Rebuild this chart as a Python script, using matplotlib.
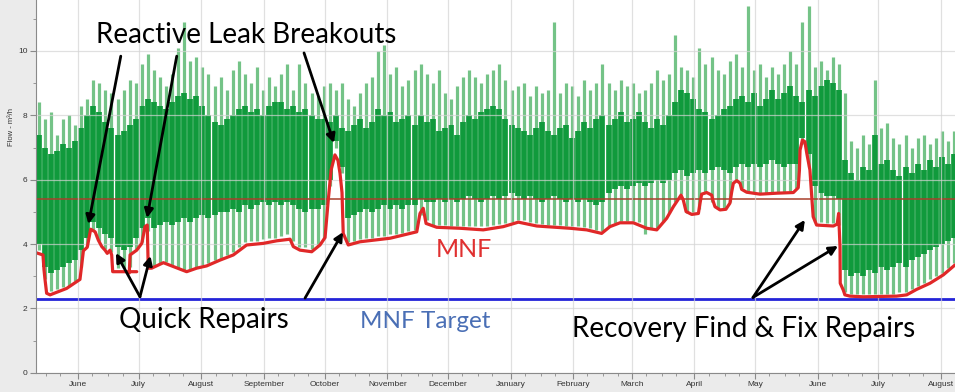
import datetime as dt
import matplotlib
matplotlib.use('agg')
import matplotlib.pyplot as plt
import matplotlib.dates as mdates
from matplotlib.ticker import MultipleLocator

START = dt.date(2015, 5, 11)
END = dt.date(2016, 8, 8)
BUCKET_DAYS = 3

# flow envelope per 3-day bucket (m3/h): night low, dense band low/high, daytime peak
flow_low = [
    3.8, 2.9, 2.55, 2.6, 2.65, 2.7, 2.85, 3.3, 3.95, 4.45,
    4.1, 3.85, 3.75, 3.25, 3.25, 3.3, 3.85, 4.05, 4.4, 3.3,
    3.4, 3.45, 3.35, 3.25, 3.2, 3.2, 3.3, 3.35, 3.4, 3.5,
    3.55, 3.65, 3.75, 3.9, 4.05, 4.1, 4.1, 4.15, 4.2, 4.2,
    4.25, 4.3, 4.1, 3.9, 3.9, 3.85, 3.95, 4.2, 5.8, 7.0,
    6.2, 4.05, 4.1, 4.15, 4.2, 4.2, 4.25, 4.25, 4.3, 4.3,
    4.35, 4.4, 4.45, 4.9, 4.75, 4.6, 4.6, 4.6, 4.55, 4.55,
    4.55, 4.55, 4.55, 4.55, 4.55, 4.6, 4.62, 4.65, 4.7, 4.75,
    4.75, 4.7, 4.65, 4.62, 4.6, 4.58, 4.58, 4.57, 4.57, 4.55,
    4.53, 4.5, 4.45, 4.42, 4.55, 4.65, 4.72, 4.72, 4.72, 4.68,
    4.3, 4.5, 4.5, 4.7, 4.95, 5.3, 5.55, 4.95, 5.0, 5.1,
    5.6, 5.3, 5.1, 5.1, 5.3, 6.0, 5.75, 5.65, 5.62, 5.6,
    5.6, 5.6, 5.62, 5.62, 5.65, 5.75, 7.1, 6.4, 4.7, 4.67,
    4.65, 4.65, 4.6, 2.5, 2.45, 2.45, 2.45, 2.45, 2.45, 2.45,
    2.45, 2.45, 2.5, 2.5, 2.6, 2.7, 2.8, 2.9, 3.0, 3.1,
    3.25, 3.4]

flow_band_low = [
    4.0, 3.3, 3.1, 3.2, 3.3, 3.4, 3.5, 3.8, 4.2, 4.7,
    4.5, 4.3, 4.2, 3.9, 3.8, 3.9, 4.2, 4.5, 4.8, 4.5,
    4.6, 4.7, 4.6, 4.7, 4.8, 4.7, 4.8, 4.9, 4.8, 4.9,
    5.0, 5.0, 5.1, 5.0, 5.2, 5.1, 5.2, 5.3, 5.2, 5.3,
    5.2, 5.3, 5.2, 5.1, 5.0, 5.1, 5.1, 5.2, 6.0, 7.2,
    6.4, 4.8, 4.9, 5.0, 5.1, 5.0, 5.1, 5.2, 5.1, 5.2,
    5.1, 5.2, 5.2, 5.4, 5.3, 5.3, 5.4, 5.3, 5.4, 5.3,
    5.4, 5.5, 5.4, 5.3, 5.4, 5.5, 5.4, 5.5, 5.6, 5.5,
    5.4, 5.5, 5.4, 5.3, 5.4, 5.5, 5.4, 5.3, 5.4, 5.3,
    5.4, 5.3, 5.2, 5.3, 5.6, 5.7, 5.8, 5.7, 5.8, 5.9,
    5.8, 5.9, 6.0, 5.9, 6.0, 6.2, 6.3, 6.1, 6.2, 6.3,
    6.2, 6.3, 6.4, 6.3, 6.2, 6.4, 6.5, 6.4, 6.5, 6.4,
    6.5, 6.6, 6.5, 6.4, 6.5, 6.5, 7.3, 6.8, 5.8, 5.6,
    5.5, 5.5, 5.4, 3.2, 3.0, 3.1, 3.0, 3.2, 3.1, 3.3,
    3.2, 3.3, 3.4, 3.3, 3.5, 3.6, 3.7, 3.8, 3.9, 4.0,
    4.1, 4.2]

flow_band_high = [
    7.4, 7.0, 6.8, 6.9, 7.1, 7.0, 7.2, 7.6, 8.0, 8.3,
    8.1, 7.8, 7.6, 7.4, 7.5, 7.7, 7.9, 8.3, 8.5, 8.4,
    8.3, 8.2, 8.4, 8.6, 8.7, 8.5, 8.6, 8.3, 8.0, 7.8,
    7.7, 7.9, 8.0, 8.2, 8.3, 8.1, 8.2, 8.0, 8.3, 8.4,
    8.4, 8.2, 8.3, 8.1, 8.2, 8.0, 7.9, 7.9, 7.8, 8.0,
    7.6, 7.5, 7.7, 7.9, 7.6, 7.8, 8.2, 8.0, 8.1, 7.8,
    7.9, 8.0, 7.7, 8.0, 7.8, 7.9, 7.5, 7.6, 7.7, 7.4,
    7.8, 8.0, 7.9, 8.1, 8.2, 8.3, 8.2, 7.9, 7.7, 7.6,
    7.5, 7.4, 7.6, 7.8, 7.5, 7.4, 7.6, 7.7, 7.3, 7.5,
    7.8, 7.6, 7.9, 8.0, 7.7, 7.9, 8.1, 7.8, 7.9, 8.1,
    7.8, 7.6, 7.9, 7.7, 8.0, 8.4, 8.8, 8.7, 8.5, 8.2,
    8.1, 7.9, 8.0, 8.2, 8.3, 8.5, 8.6, 8.4, 8.7, 8.3,
    8.5, 8.8, 8.5, 8.7, 8.9, 8.6, 8.4, 8.8, 8.6, 8.9,
    9.1, 9.0, 8.8, 6.6, 6.2, 6.0, 6.4, 6.3, 7.4, 6.5,
    6.6, 6.3, 6.1, 6.4, 6.2, 6.5, 6.3, 6.6, 6.4, 6.7,
    6.5, 6.8]

flow_peak = [
    8.4, 7.9, 8.1, 7.4, 7.9, 8.0, 7.7, 8.3, 8.5, 9.1,
    9.0, 8.8, 8.7, 8.5, 8.8, 9.1, 9.0, 9.6, 9.9, 9.4,
    9.2, 8.9, 9.3, 10.1, 10.9, 9.7, 9.8, 9.5, 9.3, 8.9,
    9.2, 8.8, 9.4, 9.7, 9.3, 9.0, 9.5, 8.8, 9.2, 8.9,
    9.3, 9.6, 8.8, 9.6, 9.0, 8.7, 8.6, 8.9, 9.0, 8.8,
    9.0, 8.5, 8.3, 8.7, 9.0, 9.2, 10.0, 10.2, 9.3, 9.5,
    8.9, 9.1, 9.4, 9.6, 9.3, 9.0, 9.4, 8.7, 8.5, 8.9,
    9.2, 9.4, 9.2, 9.0, 9.3, 9.4, 9.6, 9.1, 8.8, 8.9,
    9.0, 8.6, 8.9, 8.7, 8.8, 10.9, 8.7, 9.0, 8.9, 8.6,
    9.1, 8.8, 9.0, 9.6, 9.0, 8.8, 9.1, 8.9, 9.0, 8.7,
    8.8, 9.0, 9.4, 9.1, 9.3, 10.5, 9.5, 9.4, 9.2, 10.1,
    9.6, 9.8, 9.4, 9.3, 9.7, 9.9, 9.5, 11.4, 9.4, 9.6,
    9.2, 9.5, 9.3, 9.6, 10.0, 9.6, 10.9, 11.4, 9.5, 9.7,
    9.4, 9.8, 9.6, 8.7, 7.2, 7.0, 7.4, 7.1, 9.1, 7.6,
    7.75, 7.3, 7.1, 7.4, 7.0, 7.3, 7.4, 7.1, 7.3, 7.5,
    7.2, 7.5]

# hand-drawn MNF trace, two strokes (days after START, m3/h)
mnf_a_days = [0.15, 3.6, 4.1, 4.6, 5.4, 7.1, 15.3, 21.9, 23.6, 25.5, 27.2,
              29.4, 31.0, 32.7, 34.3, 35.4, 36.8, 37.6, 38.1, 50.0]
mnf_a_vals = [3.73, 3.66, 3.2, 2.9, 2.47, 2.42, 2.62, 2.90, 3.79, 3.90, 4.46,
              4.38, 4.12, 3.92, 3.81, 3.71, 3.81, 3.66, 3.14, 3.14]

mnf_b_days = [46.3, 46.7, 50.0, 52.5, 54.1, 55.2, 55.7, 57.4, 63.2, 68.1,
              74.7, 79.7, 84.6, 91.2, 97.8, 104.4, 112.6, 119.3, 125.9, 127.5,
              130.8, 136.6, 140.7, 143.2, 144.7, 146.2, 148.1, 149.6, 150.6, 151.6,
              152.2, 154.7, 160.5, 175.4, 188.6, 190.2, 191.8, 193.2, 198.5, 210.0,
              221.5, 231.4, 238.9, 248.0, 264.4, 272.7, 280.1, 284.2, 289.2, 295.8,
              302.4, 307.4, 312.3, 315.6, 319.4, 320.5, 321.9, 324.7, 328.0, 328.8,
              329.6, 332.1, 334.6, 335.1, 336.2, 338.7, 341.6, 343.6, 344.5, 345.3,
              347.0, 348.6, 349.4, 351.9, 358.5, 366.7, 375.0, 377.4, 378.0, 378.3,
              379.5, 380.7, 381.7, 383.2, 384.1, 384.8, 386.5, 394.8, 396.7, 397.4,
              398.1, 398.2, 399.7, 400.5, 403.0, 409.6, 426.1, 431.1, 436.0, 442.6,
              449.2, 455.0]
mnf_b_vals = [3.10, 3.66, 3.81, 4.02, 4.54, 4.59, 3.25, 3.25, 3.42, 3.30,
              3.14, 3.25, 3.32, 3.50, 3.66, 3.97, 4.02, 4.10, 4.15, 3.92,
              3.81, 3.76, 3.97, 4.2, 5.3, 6.3, 6.77, 6.6, 6.2, 5.6,
              4.33, 3.97, 4.07, 4.18, 4.38, 4.95, 5.11, 4.64, 4.52, 4.49,
              4.44, 4.54, 4.68, 4.56, 4.49, 4.44, 4.33, 4.54, 4.66, 4.66,
              4.49, 4.44, 4.80, 5.16, 5.52, 5.37, 5.01, 4.92, 4.95, 5.27,
              5.55, 5.60, 5.52, 5.37, 5.16, 5.06, 5.08, 5.27, 5.63, 5.89,
              5.97, 5.89, 5.70, 5.61, 5.55, 5.58, 5.60, 5.75, 6.3, 6.92,
              7.23, 7.18, 6.8, 6.3, 5.47, 4.85, 4.59, 4.56, 4.62, 4.95,
              3.9, 2.78, 2.57, 2.42, 2.38, 2.36, 2.38, 2.42, 2.59, 2.78,
              3.04, 3.35]

baseline_flow = 5.39
mnf_target = 2.29

DARK_GREEN = '#109a3c'
LIGHT_GREEN = '#74c387'
RED = '#e02828'

plt.rcParams['font.family'] = ['Lato', 'DejaVu Sans']

t0 = mdates.date2num(START)


def day(d):
    return t0 + d


fig = plt.figure(figsize=(9.55, 3.92), dpi=100, facecolor='#ebebeb')
ax = fig.add_axes([0.0374, 0.0492, 0.9626, 0.9508])
ax.set_facecolor('white')

xs = [day(BUCKET_DAYS * i + 1.5) for i in range(len(flow_peak))]
ax.vlines(xs, flow_low, flow_peak, color=LIGHT_GREEN, lw=2.3, zorder=1)
ax.vlines(xs, flow_band_low, flow_band_high, color=DARK_GREEN, lw=4.1, zorder=1.2)

ax.axhline(baseline_flow, color='#a8402c', lw=1.1, zorder=2)
ax.axhline(mnf_target, color='#2424d8', lw=2, zorder=2)

ax.plot([day(d) for d in mnf_a_days], mnf_a_vals, color=RED, lw=2.3,
        solid_joinstyle='round', solid_capstyle='round', zorder=3)
ax.plot([day(d) for d in mnf_b_days], mnf_b_vals, color=RED, lw=2.3,
        solid_joinstyle='round', solid_capstyle='round', zorder=3)

ax.set_xlim(day(0), mdates.date2num(END))
ax.set_ylim(0, 11.585)

ax.xaxis.set_major_locator(mdates.MonthLocator())
ax.xaxis.set_major_formatter(mdates.DateFormatter('%B'))
ax.xaxis.set_minor_locator(mdates.DayLocator(bymonthday=[8, 16, 23]))
ax.yaxis.set_major_locator(MultipleLocator(2))
ax.yaxis.set_minor_locator(MultipleLocator(1))

ax.grid(True, which='major', color='#d4d4d4', lw=0.9, alpha=0.7, zorder=1.5)
ax.set_axisbelow(False)
for side in ('top', 'right'):
    ax.spines[side].set_visible(False)
for side in ('left', 'bottom'):
    ax.spines[side].set_color('#8a8a8a')
    ax.spines[side].set_zorder(4)

ax.tick_params(which='major', length=4, color='#8a8a8a', labelsize=6,
               labelcolor='#333333', pad=2)
ax.tick_params(which='minor', length=2.5, color='#8a8a8a')
for lab in ax.get_xticklabels() + ax.get_yticklabels():
    lab.set_family('Liberation Sans')

ax.set_ylabel('Flow - m³/h', fontsize=5.5, color='#333333', family='Liberation Sans')
ax.yaxis.set_label_coords(-0.0225, 0.66)

# callout arrows: (tail day, tail value, head day, head value)
arrows = [
    (42.1, 9.84, 26.1, 4.62),
    (69.8, 9.84, 55.1, 4.81),
    (132.8, 9.94, 147.6, 7.14),
    (51.6, 2.36, 39.7, 3.72),
    (51.6, 2.36, 56.8, 3.63),
    (133.3, 2.32, 152.1, 4.37),
    (355.0, 2.34, 380.7, 4.75),
    (355.0, 2.34, 397.1, 3.94),
]
for tx, ty, hx, hy in arrows:
    ax.annotate('', xy=(day(hx), hy), xytext=(day(tx), ty),
                arrowprops=dict(arrowstyle='-|>', color='black', lw=2.0,
                                mutation_scale=13, shrinkA=0, shrinkB=0),
                zorder=5)

ax.text(day(104.1), 10.24, 'Reactive Leak Breakouts', fontsize=20,
        ha='center', va='baseline', color='black', zorder=6)
ax.text(day(83.3), 1.39, 'Quick Repairs', fontsize=20,
        ha='center', va='baseline', color='black', zorder=6)
ax.text(day(192.9), 1.38, 'MNF Target', fontsize=17.5,
        ha='center', va='baseline', color='#4a6fb5', zorder=6)
ax.text(day(212.1), 3.61, 'MNF', fontsize=18,
        ha='center', va='baseline', color='#e03030', zorder=6)
ax.text(day(350.3), 1.12, 'Recovery Find & Fix Repairs', fontsize=20,
        ha='center', va='baseline', color='black', zorder=6)

fig.savefig('out.png', dpi=100, facecolor=fig.get_facecolor())
